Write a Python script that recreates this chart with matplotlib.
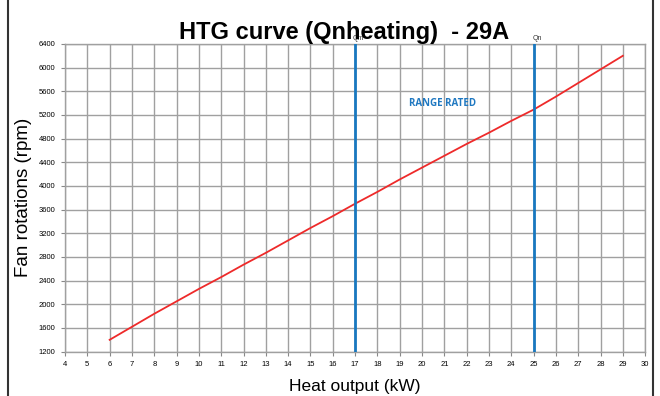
import numpy as np
import matplotlib
matplotlib.use("Agg")
import matplotlib.pyplot as plt
from matplotlib.lines import Line2D

# data
heat_kw = [6, 7, 8, 9, 10, 11, 12, 13, 14, 15, 16, 17, 18, 19, 20, 21, 22, 23, 24, 25, 26, 27, 28, 29]
fan_rpm = [1400, 1620, 1840, 2050, 2260, 2460, 2670, 2870, 3080, 3290, 3490, 3700, 3900, 4110,
           4310, 4510, 4710, 4900, 5100, 5290, 5510, 5740, 5970, 6200]
x_ticks = list(range(4, 31))
y_ticks = list(range(1200, 6401, 400))
range_limits = [17, 25]
range_labels = ["Qm", "Qn"]

plt.rcParams['font.family'] = ['Liberation Sans', 'DejaVu Sans']

fig = plt.figure(figsize=(6.6, 3.96), dpi=100)
ax = fig.add_axes([0.0985, 0.112, 0.879, 0.777])

ax.plot(heat_kw, fan_rpm, color='#ee2a2a', lw=1.3, zorder=3)

for xv, lab in zip(range_limits, range_labels):
    ax.axvline(xv, color='#1878c0', lw=2, zorder=4)
    ax.text(xv + 0.15, 6440, lab, fontsize=5, ha='center', va='bottom', color='#333333')

ax.text(20.9, 5390, "RANGE RATED", fontsize=7, fontweight='bold', color='#1f78c1',
        family=['Open Sans', 'DejaVu Sans'], ha='center', va='center')

ax.set_xlim(4, 30)
ax.set_ylim(1200, 6400)
ax.set_xticks(x_ticks)
ax.set_yticks(y_ticks)
ax.tick_params(labelsize=5.5, length=3, color='#888888', pad=4)
ax.grid(True, color='#a0a0a0', lw=1)
ax.set_axisbelow(True)
for s in ax.spines.values():
    s.set_color('#a0a0a0')
    s.set_linewidth(1)

ax.set_xlabel("Heat output (kW)", fontsize=12.5, labelpad=8)
ax.set_ylabel("Fan rotations (rpm)", fontsize=13.5, labelpad=5)

fig.text(0.521, 0.918, "HTG curve (Qnheating)  - 29A", fontsize=17, fontweight='bold',
         ha='center', va='center')

# frame lines at the sides
fig.add_artist(Line2D([0.012, 0.012], [0, 1], color='#333333', lw=1.5))
fig.add_artist(Line2D([0.989, 0.989], [0, 1], color='#333333', lw=1.5))

fig.savefig("out.png", dpi=100)
